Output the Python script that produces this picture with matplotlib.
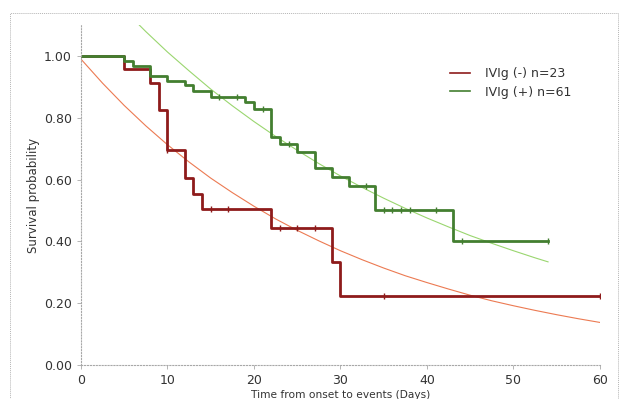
import numpy as np
import matplotlib as mpl; mpl.use('Agg')
import matplotlib.pyplot as plt
from matplotlib.patches import Rectangle

mpl.rcParams.update({'font.family': 'DejaVu Sans', 'font.size': 8.5})

TXT = '#333333'; RED = '#8e1b1b'; GRN = '#437f30'; RFIT = '#ec7a52'; GFIT = '#9ad66f'

# Kaplan-Meier steps
red_t = [0, 5, 8, 9, 10, 12, 13, 14, 22, 29, 30, 60]
red_s = [1.0, 0.957, 0.913, 0.826, 0.696, 0.605, 0.555, 0.506, 0.444, 0.333, 0.222, 0.222]
red_ct = [10, 15, 17, 23, 25, 27, 35, 60]
red_cs = [0.696, 0.506, 0.506, 0.444, 0.444, 0.444, 0.222, 0.222]

grn_t = [0, 5, 6, 8, 10, 12, 13, 15, 19, 20, 22, 23, 25, 27, 29, 31, 34, 43, 54]
grn_s = [1.0, 0.984, 0.967, 0.934, 0.918, 0.905, 0.888, 0.868, 0.850, 0.830, 0.739,
         0.715, 0.688, 0.637, 0.609, 0.578, 0.503, 0.402, 0.402]
grn_ct = [16, 18, 21, 24, 33, 35, 36, 37, 38, 41, 44, 54]
grn_cs = [0.868, 0.868, 0.830, 0.715, 0.578, 0.503, 0.503, 0.503, 0.503, 0.503, 0.402, 0.402]

# fitted curves
rfit_t = [0, 2.5, 5, 7.5, 10, 12.5, 15, 17.5, 20, 22.5, 25, 27.5, 30, 32.5, 35, 37.5,
          40, 42.5, 45, 47.5, 50, 52.5, 55, 57.5, 60]
rfit_s = [0.990, 0.912, 0.840, 0.774, 0.713, 0.657, 0.605, 0.558, 0.514, 0.473, 0.436,
          0.402, 0.370, 0.341, 0.314, 0.289, 0.267, 0.246, 0.226, 0.208, 0.192, 0.177,
          0.163, 0.150, 0.138]
gfit_t = [6.75, 7.5, 10, 12.5, 15, 17.5, 20, 22.5, 25, 27.5, 30, 32.5, 35, 37.5, 40,
          42.5, 45, 47.5, 50, 52.5, 54]
gfit_s = [1.100, 1.079, 1.013, 0.952, 0.893, 0.839, 0.788, 0.740, 0.695, 0.652, 0.612,
          0.575, 0.540, 0.507, 0.476, 0.447, 0.419, 0.394, 0.370, 0.347, 0.334]

fig = plt.figure(figsize=(6.23, 3.99), dpi=100)
ax = fig.add_axes([0.130, 0.085, 0.833, 0.852])

# scan border
fig.add_artist(Rectangle((10/623, -0.05), 608/623, 1 - 13/399 + 0.05, transform=fig.transFigure,
                         fill=False, ec='#b5b5b5', lw=0.7, ls=(0, (1, 1))))

ax.plot(rfit_t, rfit_s, color=RFIT, lw=0.8)
ax.plot(gfit_t, gfit_s, color=GFIT, lw=0.8)
ax.step(red_t, red_s, where='post', color=RED, lw=2, label='IVIg (-) n=23')
ax.step(grn_t, grn_s, where='post', color=GRN, lw=2, label='IVIg (+) n=61')
ax.plot(red_ct, red_cs, '|', color=RED, ms=4, mew=1)
ax.plot(grn_ct, grn_cs, '|', color=GRN, ms=4, mew=1)

ax.set_xlim(0, 60); ax.set_ylim(0, 1.1)
ax.set_xticks([0, 10, 20, 30, 40, 50, 60])
ax.set_yticks([0, 0.2, 0.4, 0.6, 0.8, 1.0])
ax.set_yticklabels([f'{v:.2f}' for v in [0, 0.2, 0.4, 0.6, 0.8, 1.0]])
for s in ['top', 'right']:
    ax.spines[s].set_visible(False)
for s in ['left', 'bottom']:
    ax.spines[s].set_color('#a8a8a8'); ax.spines[s].set_linestyle(':'); ax.spines[s].set_linewidth(0.8)
ax.tick_params(colors='#a8a8a8', labelcolor=TXT, length=3, width=0.6, labelsize=9)
ax.set_xlabel('Time from onset to events (Days)', color=TXT, fontsize=7.7, labelpad=2)
ax.set_ylabel('Survival probability', color=TXT, fontsize=8.5, labelpad=3)

leg = ax.legend(loc='upper left', bbox_to_anchor=(0.69, 0.91), frameon=False, fontsize=9,
                handlelength=1.6, handletextpad=1.2, labelspacing=0.45)
for h in leg.get_lines():
    h.set_linewidth(1.2)
for t in leg.get_texts():
    t.set_color(TXT)

fig.savefig('out.png', dpi=100)
